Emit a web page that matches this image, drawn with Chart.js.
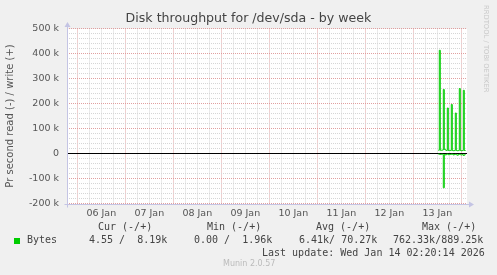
<!DOCTYPE html>
<html>
<head>
<meta charset="utf-8">
<script src="https://cdn.jsdelivr.net/npm/chart.js@4.4.1/dist/chart.umd.min.js"></script>
<style>
  html, body { margin: 0; padding: 0; background: #f0f0f0; }
  #wrap { position: relative; width: 497px; height: 275px; overflow: hidden; }
  canvas { position: absolute; left: 0; top: 0; }
  .t { position: absolute; white-space: pre; font-family: "DejaVu Sans Mono", monospace; font-size: 10px; line-height: 12px; color: #444; }
  .sq { position: absolute; width: 6px; height: 6px; background: #00cc00; }
  .title { position: absolute; left: 0; width: 497px; text-align: center; font-family: "DejaVu Sans", sans-serif; font-size: 12.6px; line-height: 16px; color: #444; white-space: pre; }
  .munin { position: absolute; font-family: "DejaVu Sans", sans-serif; font-size: 8px; line-height: 10px; color: #bbb; white-space: pre; }
  .rrd { position: absolute; font-family: "DejaVu Sans", sans-serif; font-size: 6.8px; color: #c8c8c8; writing-mode: vertical-rl; white-space: pre; }
</style>
</head>
<body>
<div id="wrap">
  <canvas id="c" width="497" height="275"></canvas>
</div>
<script>
// ---- data (hours since 06 Jan 00:00) ----
const dayLabels = ["06 Jan", "07 Jan", "08 Jan", "09 Jan", "10 Jan", "11 Jan", "12 Jan", "13 Jan"];
const hours = [180.5, 181, 181.5, 182, 182.5, 183, 183.5, 184, 184.5, 185, 185.5, 186, 186.5, 187, 187.5, 188, 188.5, 189, 189.5, 190, 190.5, 191, 191.5, 192, 192.5, 193, 193.5, 194];
// write (+), in k
const writeK = [13, 413, 13, 13, 14, 256, 16, 14, 12, 182, 12, 13, 12, 196, 12, 11, 12, 162, 12, 11, 12, 260, 12, 11, 12, 253, 12, 10];
// read (-), in k (magnitude)
const readK = [2, 3, 4, 3, 3, 137, 4, 6, 3, 2, 5, 3, 4, 2, 3, 6, 4, 3, 5, 7, 4, 3, 5, 6, 4, 8, 5, 3];
const yTickValues = [500000, 400000, 300000, 200000, 100000, 0, -100000, -200000];
const legendHeaders = ["Cur (-/+)", "Min (-/+)", "Avg (-/+)", "Max (-/+)"];
const legendSeries = "Bytes";
const legendValues = ["4.55 /  8.19k", "0.00 /  1.96k", "6.41k/ 70.27k", "762.33k/889.25k"];
const lastUpdate = "Last update: Wed Jan 14 02:20:14 2026";
const titleText = "Disk throughput for /dev/sda - by week";
const yTitle = "Pr second read (-) / write (+)";

const X_MIN = -5.15, X_MAX = 194.85;
const Y_MIN = -200000, Y_MAX = 500000;

// ---- HTML texts ----
const wrap = document.getElementById('wrap');
function addText(cls, txt, left, top) {
  const d = document.createElement('div');
  d.className = cls; d.textContent = txt;
  if (left !== null) d.style.left = left + 'px';
  d.style.top = top + 'px';
  wrap.appendChild(d);
  return d;
}
addText('title', titleText, null, 10);
const headerX = [98, 207, 316, 422];
const valueX = [89, 194, 299, 393];
legendHeaders.forEach((h, i) => addText('t', h, headerX[i], 221));
const sq = document.createElement('div'); sq.className = 'sq'; sq.style.left = '14px'; sq.style.top = '238px'; wrap.appendChild(sq);
addText('t', legendSeries, 27, 234);
legendValues.forEach((v, i) => addText('t', v, valueX[i], 234));
addText('t', lastUpdate, 262, 247);
addText('munin', 'Munin 2.0.57', 223, 259);
addText('rrd', 'RRDTOOL / TOBI OETIKER', 482, 5);

// ---- chart ----
const bgPlugin = {
  id: 'bg',
  beforeDraw(chart) {
    const { ctx, chartArea: a } = chart;
    ctx.save();
    ctx.fillStyle = '#f0f0f0';
    ctx.fillRect(0, 0, chart.width, chart.height);
    ctx.fillStyle = '#ffffff';
    ctx.fillRect(Math.round(a.left), Math.round(a.top), Math.round(a.right - a.left), Math.round(a.bottom - a.top));
    ctx.restore();
  },
  afterDatasetsDraw(chart) {
    const { ctx, chartArea: a } = chart;
    const L = Math.round(a.left) + 0.5, B = Math.round(a.bottom) + 0.5, T = Math.round(a.top), R = Math.round(a.right);
    ctx.save();
    ctx.strokeStyle = '#c4c4e4';
    ctx.fillStyle = '#c4c4e4';
    ctx.lineWidth = 1;
    ctx.beginPath();
    ctx.moveTo(L, B + 3);
    ctx.lineTo(L, T - 3);
    ctx.moveTo(L - 3, B);
    ctx.lineTo(R + 3, B);
    ctx.stroke();
    ctx.beginPath();
    ctx.moveTo(L, T - 7);
    ctx.lineTo(L - 3, T - 2);
    ctx.lineTo(L + 3, T - 2);
    ctx.closePath(); ctx.fill();
    ctx.beginPath();
    ctx.moveTo(R + 7, B);
    ctx.lineTo(R + 2, B - 3);
    ctx.lineTo(R + 2, B + 3);
    ctx.closePath(); ctx.fill();
    ctx.restore();
  }
};

const majorColor = 'rgba(222,150,150,0.9)';
const minorColor = '#d6d6d6';

new Chart(document.getElementById('c'), {
  type: 'line',
  data: {
    datasets: [
      {
        label: 'write',
        data: hours.map((h, i) => ({ x: h, y: writeK[i] * 1000 })),
        borderColor: '#00cc00', borderWidth: 1, pointRadius: 0, stepped: 'before', fill: false, order: 0
      },
      {
        label: 'read',
        data: hours.map((h, i) => ({ x: h, y: -readK[i] * 1000 })),
        borderColor: '#00cc00', borderWidth: 1, pointRadius: 0, stepped: 'before', fill: false, order: 0
      },
      {
        label: 'zero',
        data: [{ x: X_MIN, y: 0 }, { x: X_MAX, y: 0 }],
        borderColor: '#000000', borderWidth: 1, pointRadius: 0, fill: false, order: 2
      }
    ]
  },
  options: {
    responsive: false,
    animation: false,
    devicePixelRatio: 1,
    layout: { padding: { left: 0, right: 30, top: 28.5, bottom: 51.5 } },
    plugins: {
      legend: { display: false },
      tooltip: { enabled: false },
      title: { display: false }
    },
    scales: {
      x: {
        type: 'linear', min: X_MIN, max: X_MAX,
        afterBuildTicks(scale) {
          const t = [];
          for (let h = 0; h <= 192; h += 6) t.push({ value: h });
          scale.ticks = t;
        },
        afterFit(scale) { scale.height = 20; },
        ticks: {
          autoSkip: false, maxRotation: 0, minRotation: 0, padding: 4,
          color: '#555', font: { family: 'DejaVu Sans', size: 9.5 },
          callback(v) { return (v % 24 === 12) ? dayLabels[Math.floor(v / 24)] : ''; }
        },
        grid: {
          drawTicks: false, lineWidth: 1, borderDash: [1, 1],
          color(ctx) { const v = ctx.tick && ctx.tick.value; return (v % 24 === 0) ? majorColor : minorColor; }
        },
        border: { display: false, dash: [1, 1] }
      },
      y: {
        type: 'linear', min: Y_MIN, max: Y_MAX,
        afterBuildTicks(scale) {
          const t = [];
          for (let v = Y_MIN; v <= Y_MAX; v += 20000) t.push({ value: v });
          scale.ticks = t;
        },
        afterFit(scale) { scale.width = 67; },
        ticks: {
          autoSkip: false, padding: 8,
          color: '#555', font: { family: 'DejaVu Sans', size: 9.5 },
          callback(v) {
            if (!yTickValues.includes(v)) return '';
            return v === 0 ? '0' : (v / 1000) + ' k';
          }
        },
        grid: {
          drawTicks: false, lineWidth: 1, borderDash: [1, 1],
          color(ctx) { const v = ctx.tick && ctx.tick.value; return (v % 100000 === 0) ? majorColor : minorColor; }
        },
        border: { display: false, dash: [1, 1] },
        title: {
          display: true, text: yTitle, color: '#555',
          font: { family: 'DejaVu Sans', size: 10 },
          padding: { top: 4, bottom: 0 }
        }
      }
    }
  },
  plugins: [bgPlugin]
});
</script>
</body>
</html>
